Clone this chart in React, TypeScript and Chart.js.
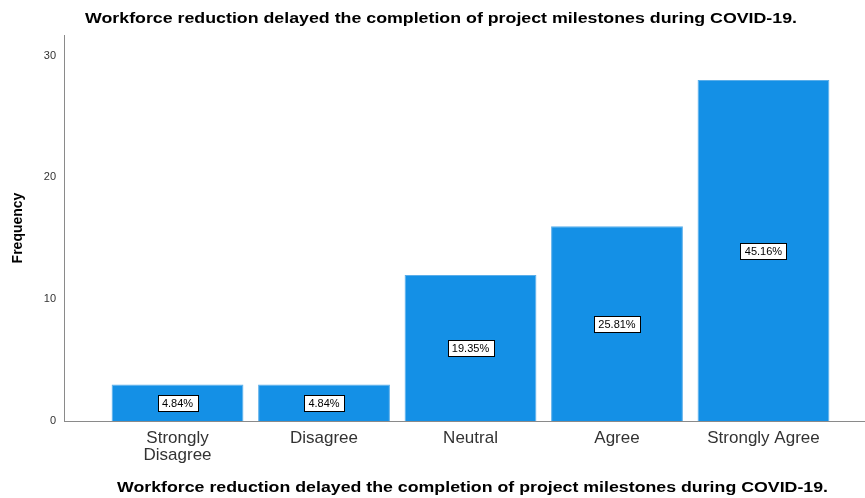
import React, { useEffect, useRef } from "react";
import { Chart, registerables } from "chart.js";

Chart.register(...registerables);

const categories = ["Strongly Disagree", "Disagree", "Neutral", "Agree", "Strongly Agree"];
const categoryLines = [["Strongly", "Disagree"], ["Disagree"], ["Neutral"], ["Agree"], ["Strongly Agree"]];
const frequencies = [3, 3, 12, 16, 28];
const percentLabels = ["4.84%", "4.84%", "19.35%", "25.81%", "45.16%"];
const yTicks = [0, 10, 20, 30];
const chartTitle = "Workforce reduction delayed the completion of project milestones during COVID-19.";
const xTitle = "Workforce reduction delayed the completion of project milestones during COVID-19.";
const yTitle = "Frequency";

const FONT = '"Liberation Sans", Arial, sans-serif';

function drawWideText(ctx: any, text: string, cx: number, cy: number, targetWidth: number) {
  const w = ctx.measureText(text).width;
  const k = w > 0 ? targetWidth / w : 1;
  ctx.save();
  ctx.translate(cx, cy);
  ctx.scale(k, 1);
  ctx.fillText(text, 0, 0);
  ctx.restore();
}

const titlesPlugin = {
  id: "titlesPlugin",
  afterDraw(chart: any) {
    const ctx = chart.ctx;
    const area = chart.chartArea;
    ctx.save();
    ctx.font = `bold 15.5px ${FONT}`;
    ctx.fillStyle = "#000";
    ctx.textAlign = "center";
    ctx.textBaseline = "middle";
    drawWideText(ctx, chartTitle, chart.width / 2 + 8.5, 19, 712);
    drawWideText(ctx, xTitle, (area.left + area.right) / 2 + 8, chart.height - 10, 711);
    ctx.restore();
  },
};

const barLabelPlugin = {
  id: "barLabelPlugin",
  afterDatasetsDraw(chart: any) {
    const ctx = chart.ctx;
    const meta = chart.getDatasetMeta(0);
    ctx.save();
    ctx.font = `11px ${FONT}`;
    ctx.textAlign = "center";
    ctx.textBaseline = "middle";
    meta.data.forEach((el: any, i: number) => {
      const { x, y, base } = el.getProps(["x", "y", "base"], true);
      const cy = (y + base) / 2;
      const text = percentLabels[i];
      const w = Math.round(ctx.measureText(text).width + 9);
      const h = 16;
      const bx = Math.round(x - w / 2) + 0.5;
      const by = Math.round(cy - h / 2) + 0.5;
      ctx.fillStyle = "#fff";
      ctx.fillRect(bx, by, w, h);
      ctx.strokeStyle = "#000";
      ctx.lineWidth = 1;
      ctx.strokeRect(bx, by, w, h);
      ctx.fillStyle = "#000";
      ctx.fillText(text, x, cy + 1);
    });
    ctx.restore();
  },
};

export default function App() {
  const ref = useRef<HTMLCanvasElement | null>(null);

  useEffect(() => {
    document.body.style.margin = "0";
    const canvas = ref.current;
    if (!canvas) return;
    const chart = new Chart(canvas, {
      type: "bar",
      data: {
        datasets: [
          {
            data: frequencies.map((v, i) => ({ x: i, y: v })),
            backgroundColor: "#1490e6",
            borderColor: "#5aaeea",
            borderWidth: 1,
            barPercentage: 0.9,
            categoryPercentage: 1,
          },
        ],
      },
      options: {
        animation: false,
        responsive: false,
        devicePixelRatio: 1,
        layout: { padding: { top: 35, left: 0, right: 0, bottom: 0 } },
        plugins: {
          legend: { display: false },
          tooltip: { enabled: false },
          title: { display: false },
        },
        scales: {
          x: {
            type: "linear",
            offset: false,
            min: -0.775,
            max: 4.693,
            grid: { display: false, drawTicks: false },
            border: { display: true, color: "#8a8a8a", width: 1 },
            afterBuildTicks: (s: any) => {
              s.ticks = categories.map((_, i) => ({ value: i }));
            },
            afterFit: (s: any) => {
              s.height = 77;
            },
            ticks: {
              autoSkip: false,
              maxRotation: 0,
              minRotation: 0,
              padding: 9,
              color: "#333",
              font: { family: FONT, size: 17, lineHeight: 1 },
              callback: (v: any) => categoryLines[v] ?? "",
            },
          },
          y: {
            min: 0,
            max: 31.7,
            grid: { display: false, drawTicks: false },
            border: { display: true, color: "#8a8a8a", width: 1 },
            afterBuildTicks: (s: any) => {
              s.ticks = yTicks.map((v) => ({ value: v }));
            },
            afterFit: (s: any) => {
              s.width = 64;
            },
            ticks: {
              padding: 8,
              color: "#333",
              font: { family: FONT, size: 11 },
            },
            title: {
              display: true,
              text: yTitle,
              color: "#000",
              font: { family: FONT, size: 14, weight: "bold" },
              padding: { top: 10, bottom: 0 },
            },
          },
        },
      } as any,
      plugins: [titlesPlugin, barLabelPlugin],
    });
    return () => chart.destroy();
  }, []);

  return (
    <div style={{ width: 865, height: 498 }}>
      <canvas ref={ref} width={865} height={498} />
    </div>
  );
}
